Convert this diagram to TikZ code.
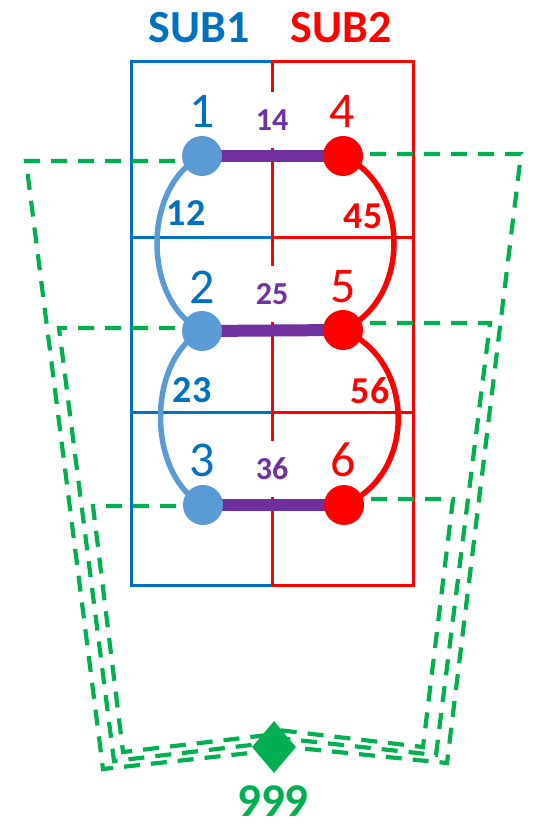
\documentclass[tikz,border=0pt]{standalone}
\usepackage{fontspec}
\setmainfont{Carlito}
\usetikzlibrary{positioning,calc,shapes.geometric,backgrounds}
\definecolor{subblue}{HTML}{0070C0}
\definecolor{nodeblue}{HTML}{5B9BD5}
\definecolor{subred}{HTML}{FF0000}
\definecolor{linkpurple}{HTML}{7030A0}
\definecolor{tiegreen}{HTML}{00B050}
\tikzset{
  bdot/.style={circle,fill=nodeblue,minimum size=40pt,inner sep=0pt},
  rdot/.style={circle,fill=subred,minimum size=40pt,inner sep=0pt},
  numlbl/.style={font=\fontsize{50}{50}\selectfont,inner sep=0pt},
  edgelbl/.style={font=\fontsize{38}{38}\selectfont\bfseries,inner sep=0pt},
  linklbl/.style={font=\fontsize{32}{32}\selectfont\bfseries,text=linkpurple,fill=white,minimum height=56pt,inner sep=1pt},
  sublbl/.style={font=\fontsize{46}{46}\selectfont\bfseries,inner sep=0pt},
  subframe/.style={line width=3pt},
  arcb/.style={draw=nodeblue,line width=5.5pt},
  arcr/.style={draw=subred,line width=5.5pt},
  linkbar/.style={draw=linkpurple,line width=12pt},
  gdash/.style={draw=tiegreen,line width=4.2pt,dash pattern=on 16pt off 11pt},
}

\begin{document}
\begin{tikzpicture}[x=1pt,y=-1pt]
\useasboundingbox (0,0) rectangle (532,826);

% subdomain nodes
\node[bdot] (n1) at (202,156) {};
\node[bdot] (n2) at (202,331) {};
\node[bdot] (n3) at (203,505) {};
\node[rdot] (n4) at (343,156) {};
\node[rdot] (n5) at (343,330) {};
\node[rdot] (n6) at (344,505) {};
\node[diamond,fill=tiegreen,minimum width=44pt,minimum height=52pt,inner sep=0pt] (dia) at (274,747) {};

% texts
\node[sublbl,text=subblue] (s1) at (199,28) {SUB1};
\node[sublbl,text=subred] (s2) at (341,28) {SUB2};
\node[numlbl,text=subblue] (t1) at (202,111) {1};
\node[numlbl,text=subblue] (t2) at (202,287) {2};
\node[numlbl,text=subblue] (t3) at (202,460) {3};
\node[numlbl,text=subred] (t4) at (342,111) {4};
\node[numlbl,text=subred] (t5) at (343,287) {5};
\node[numlbl,text=subred] (t6) at (343,460) {6};
\node[linklbl] (l14) at (272,120) {14};
\node[linklbl] (l25) at (272,294) {25};
\node[linklbl] (l36) at (272,469) {36};
\node[edgelbl,text=subblue] (e12) at (186,213) {12};
\node[edgelbl,text=subblue] (e23) at (192,390) {23};
\node[edgelbl,text=subred] (e45) at (363,216) {45};
\node[edgelbl,text=subred] (e56) at (370,391) {56};
\node[font=\fontsize{47}{47}\selectfont\bfseries,text=tiegreen,inner sep=0pt] (tie) at (273,801) {999};

% corners of the green ties
\coordinate (gl1) at (26,161);  \coordinate (gl1b) at (103,769); \coordinate (dl1) at (268,751);
\coordinate (gl2) at (59,328);  \coordinate (gl2b) at (114,761); \coordinate (dl2) at (268,743);
\coordinate (gl3) at (93,506);  \coordinate (gl3b) at (123,752); \coordinate (dl3) at (268,735);
\coordinate (gr1) at (521,154); \coordinate (gr1b) at (447,763); \coordinate (dr1) at (278,746);
\coordinate (gr2) at (490,323); \coordinate (gr2b) at (436,755); \coordinate (dr2) at (278,738);
\coordinate (gr3) at (453,499); \coordinate (gr3b) at (423,747); \coordinate (dr3) at (278,730);

\begin{scope}[on background layer]
\draw[subframe,subblue] (131,62) rectangle (272,585);
\draw[subframe,subred] (272,62) rectangle (413,585);
\draw[subframe,subblue] (131,237) -- (272,237) (131,412) -- (272,412);
\draw[subframe,subred] (272,237) -- (413,237) (272,412) -- (413,412);

\draw[gdash] (n1.center |- gl1) -- (gl1) -- (gl1b) -- (dl1);
\draw[gdash] (n2.center |- gl2) -- (gl2) -- (gl2b) -- (dl2);
\draw[gdash] (n3.center |- gl3) -- (gl3) -- (gl3b) -- (dl3);
\draw[gdash] (n4.center |- gr1) -- (gr1) -- (gr1b) -- (dr1);
\draw[gdash] (n5.center |- gr2) -- (gr2) -- (gr2b) -- (dr2);
\draw[gdash] (n6.center |- gr3) -- (gr3) -- (gr3b) -- (dr3);

\draw[arcb] (n1.center) .. controls +(-60,30) and +(-60,-30) .. (n2.center);
\draw[arcb] (n2.center) .. controls +(-56,30) and +(-56,-30) .. (n3.center);
\draw[arcr] (n4.center) .. controls +(68,30) and +(68,-30) .. (n5.center);
\draw[arcr] (n5.center) .. controls +(73,30) and +(73,-30) .. (n6.center);

\draw[linkbar] (n1.center) -- (n4.center);
\draw[linkbar] (n2.center) -- (n5.center);
\draw[linkbar] (n3.center) -- (n6.center);
\end{scope}
\end{tikzpicture}
\end{document}
